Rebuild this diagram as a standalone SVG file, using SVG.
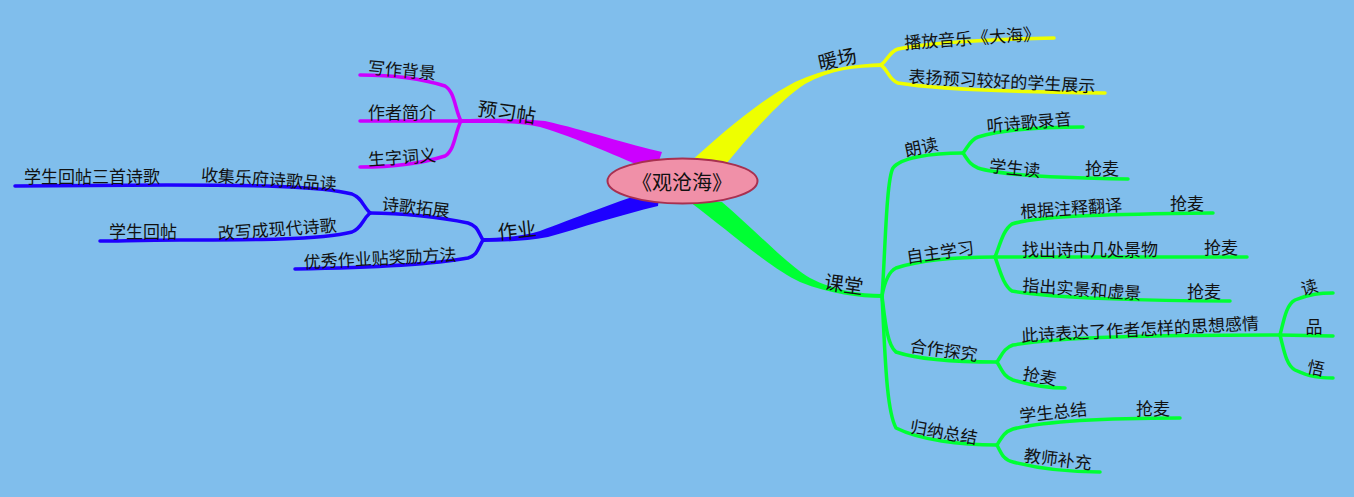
<svg xmlns="http://www.w3.org/2000/svg" width="1354" height="497" viewBox="0 0 1354 497">
<style>
text{font-family:"Noto Sans CJK SC","Noto Sans",sans-serif;fill:#111;text-anchor:middle;dominant-baseline:central;font-size:17px}
.l1{font-size:19.5px}
.rt{font-size:20px}
.c{fill:none;stroke-width:3.5;stroke-linecap:round;stroke-linejoin:round}
.y{stroke:#EEFF00}.m{stroke:#CC00FF}.b{stroke:#1E00FF}.g{stroke:#00FF33}
</style>
<rect width="1354" height="497" fill="#80BEEC"/>
<g id="connectors">
<path d="M 688 164 C 720 135, 760 100, 795 82 C 825 68, 855 64, 883 63 L 883 67 C 855 67, 830 70, 805 84 C 780 100, 750 135, 726 164 Z" fill="#EEFF00"/>
<path d="M 662 152 C 630 145, 585 130, 545 121 C 515 118, 490 119, 461 119 L 461 123 C 490 123, 515 122, 540 127 C 575 137, 620 158, 655 172 Z" fill="#CC00FF"/>
<path d="M 660 188 C 620 200, 570 220, 540 231 C 520 237, 500 238, 483 238 L 483 242 C 505 242, 525 241, 548 237 C 580 228, 620 215, 658 206 Z" fill="#1E00FF"/>
<path d="M 690 202 C 730 232, 770 268, 800 282 C 830 294, 860 298, 882 298 L 882 294 C 860 294, 835 291, 810 278 C 785 263, 755 230, 722 202 Z" fill="#00FF33"/>
<path class="c y" d="M 881 65 C 888 60, 889 52, 898 49 C 930 42, 1000 39, 1054 38"/>
<path class="c y" d="M 881 65 C 888 70, 889 80, 898 83 C 940 90, 1020 92, 1105 93"/>
<path class="c m" d="M 461 121 C 455 110, 455 92, 445 86 C 420 78, 390 75, 360 75"/>
<path class="c m" d="M 461 121 L 360 121"/>
<path class="c m" d="M 461 121 C 455 132, 455 150, 445 156 C 420 164, 390 167, 360 167"/>
<path class="c b" d="M 483 240 C 478 232, 478 226, 468 223 C 440 217, 400 213, 370 213"/>
<path class="c b" d="M 370 213 C 362 205, 362 198, 352 194 C 320 186, 250 185, 167 185 C 100 185, 50 186, 15 186"/>
<path class="c b" d="M 370 213 C 362 220, 362 228, 352 232 C 320 240, 250 240, 180 240 C 140 240, 120 241, 100 241"/>
<path class="c b" d="M 483 240 C 478 248, 478 255, 468 258 C 430 265, 350 268, 295 269"/>
<path class="c g" d="M 882 296 C 885 260, 886 180, 893 168 C 900 158, 930 153, 963 153"/>
<path class="c g" d="M 963 153 C 968 147, 970 140, 978 137 C 1000 130, 1040 127, 1083 127"/>
<path class="c g" d="M 963 153 C 968 160, 970 165, 978 168 C 1000 175, 1050 178, 1128 179"/>
<path class="c g" d="M 882 296 C 884 285, 888 272, 896 268 C 920 260, 960 257, 995 257"/>
<path class="c g" d="M 995 257 C 1000 245, 1003 230, 1012 224 C 1040 215, 1130 214, 1213 213"/>
<path class="c g" d="M 995 257 L 1247 257"/>
<path class="c g" d="M 995 257 C 1000 270, 1003 285, 1012 291 C 1050 298, 1150 301, 1230 301"/>
<path class="c g" d="M 882 296 C 885 320, 887 345, 896 352 C 920 360, 960 362, 997 362"/>
<path class="c g" d="M 997 362 C 1002 355, 1004 348, 1013 345 C 1060 337, 1150 335, 1280 335"/>
<path class="c g" d="M 997 362 C 1002 370, 1004 377, 1013 380 C 1030 385, 1050 388, 1065 388"/>
<path class="c g" d="M 1280 335 C 1284 320, 1286 305, 1295 300 C 1310 294, 1320 293, 1333 293"/>
<path class="c g" d="M 1280 335 L 1333 336"/>
<path class="c g" d="M 1280 335 C 1284 350, 1286 365, 1295 370 C 1310 377, 1320 378, 1333 378"/>
<path class="c g" d="M 882 296 C 885 350, 886 410, 896 428 C 920 440, 960 445, 997 445"/>
<path class="c g" d="M 997 445 C 1002 437, 1004 432, 1013 429 C 1050 420, 1120 418, 1180 418"/>
<path class="c g" d="M 997 445 C 1002 455, 1004 460, 1013 462 C 1040 469, 1070 472, 1100 472"/>
</g>
<g id="root">
<ellipse cx="682.5" cy="181" rx="75" ry="22.5" fill="#F090A8" stroke="#A83050" stroke-width="2"/>
<text class="rt" x="682" y="181">《观沧海》</text>
</g>
<g id="n-nuanchang"><text class="l1" x="837" y="58" transform="rotate(-12 837 58)">暖场</text></g>
<g id="n-bofang"><text x="972" y="37" transform="rotate(-4 972 37)">播放音乐《大海》</text></g>
<g id="n-biaoyang"><text x="1002" y="80" transform="rotate(3 1002 80)">表扬预习较好的学生展示</text></g>
<g id="n-yuxitie"><text class="l1" x="507" y="111" transform="rotate(8 507 111)">预习帖</text></g>
<g id="n-xiezuo"><text x="402" y="69" transform="rotate(5 402 69)">写作背景</text></g>
<g id="n-zuozhe"><text x="402" y="111">作者简介</text></g>
<g id="n-shengzi"><text x="402" y="156" transform="rotate(-4 402 156)">生字词义</text></g>
<g id="n-zuoye"><text class="l1" x="517" y="229" transform="rotate(-6 517 229)">作业</text></g>
<g id="n-tuozhan"><text x="416" y="206" transform="rotate(6 416 206)">诗歌拓展</text></g>
<g id="n-shouji"><text x="269" y="178" transform="rotate(4 269 178)">收集乐府诗歌品读</text></g>
<g id="n-huitie3"><text x="92" y="175">学生回帖三首诗歌</text></g>
<g id="n-gaixie"><text x="277" y="228" transform="rotate(-4 277 228)">改写成现代诗歌</text></g>
<g id="n-huitie"><text x="143" y="230">学生回帖</text></g>
<g id="n-youxiu"><text x="380" y="257" transform="rotate(-3 380 257)">优秀作业贴奖励方法</text></g>
<g id="n-ketang"><text class="l1" x="844" y="283" transform="rotate(8 844 283)">课堂</text></g>
<g id="n-langdu"><text x="921" y="146" transform="rotate(-12 921 146)">朗读</text></g>
<g id="n-ting"><text x="1029" y="121" transform="rotate(-5 1029 121)">听诗歌录音</text></g>
<g id="n-xsdu"><text x="1015" y="167" transform="rotate(6 1015 167)">学生读</text></g>
<g id="n-qm1"><text x="1102" y="167">抢麦</text></g>
<g id="n-zizhu"><text x="940" y="251" transform="rotate(-8 940 251)">自主学习</text></g>
<g id="n-genju"><text x="1071" y="207" transform="rotate(-4 1071 207)">根据注释翻译</text></g>
<g id="n-qm2"><text x="1187" y="202">抢麦</text></g>
<g id="n-zhaochu"><text x="1090" y="248">找出诗中几处景物</text></g>
<g id="n-qm3"><text x="1221" y="246">抢麦</text></g>
<g id="n-zhichu"><text x="1082" y="288" transform="rotate(4 1082 288)">指出实景和虚景</text></g>
<g id="n-qm4"><text x="1204" y="290">抢麦</text></g>
<g id="n-hezuo"><text x="944" y="349" transform="rotate(8 944 349)">合作探究</text></g>
<g id="n-cishi"><text x="1140" y="328" transform="rotate(-3 1140 328)">此诗表达了作者怎样的思想感情</text></g>
<g id="n-du"><text x="1309" y="286" transform="rotate(-15 1309 286)">读</text></g>
<g id="n-pin"><text x="1314" y="325">品</text></g>
<g id="n-wu"><text x="1316" y="367" transform="rotate(12 1316 367)">悟</text></g>
<g id="n-qm5"><text x="1040" y="375" transform="rotate(10 1040 375)">抢麦</text></g>
<g id="n-guina"><text x="944" y="431" transform="rotate(10 944 431)">归纳总结</text></g>
<g id="n-xszj"><text x="1053" y="411" transform="rotate(-6 1053 411)">学生总结</text></g>
<g id="n-qm6"><text x="1153" y="407">抢麦</text></g>
<g id="n-jiaoshi"><text x="1058" y="458" transform="rotate(7 1058 458)">教师补充</text></g>
</svg>
